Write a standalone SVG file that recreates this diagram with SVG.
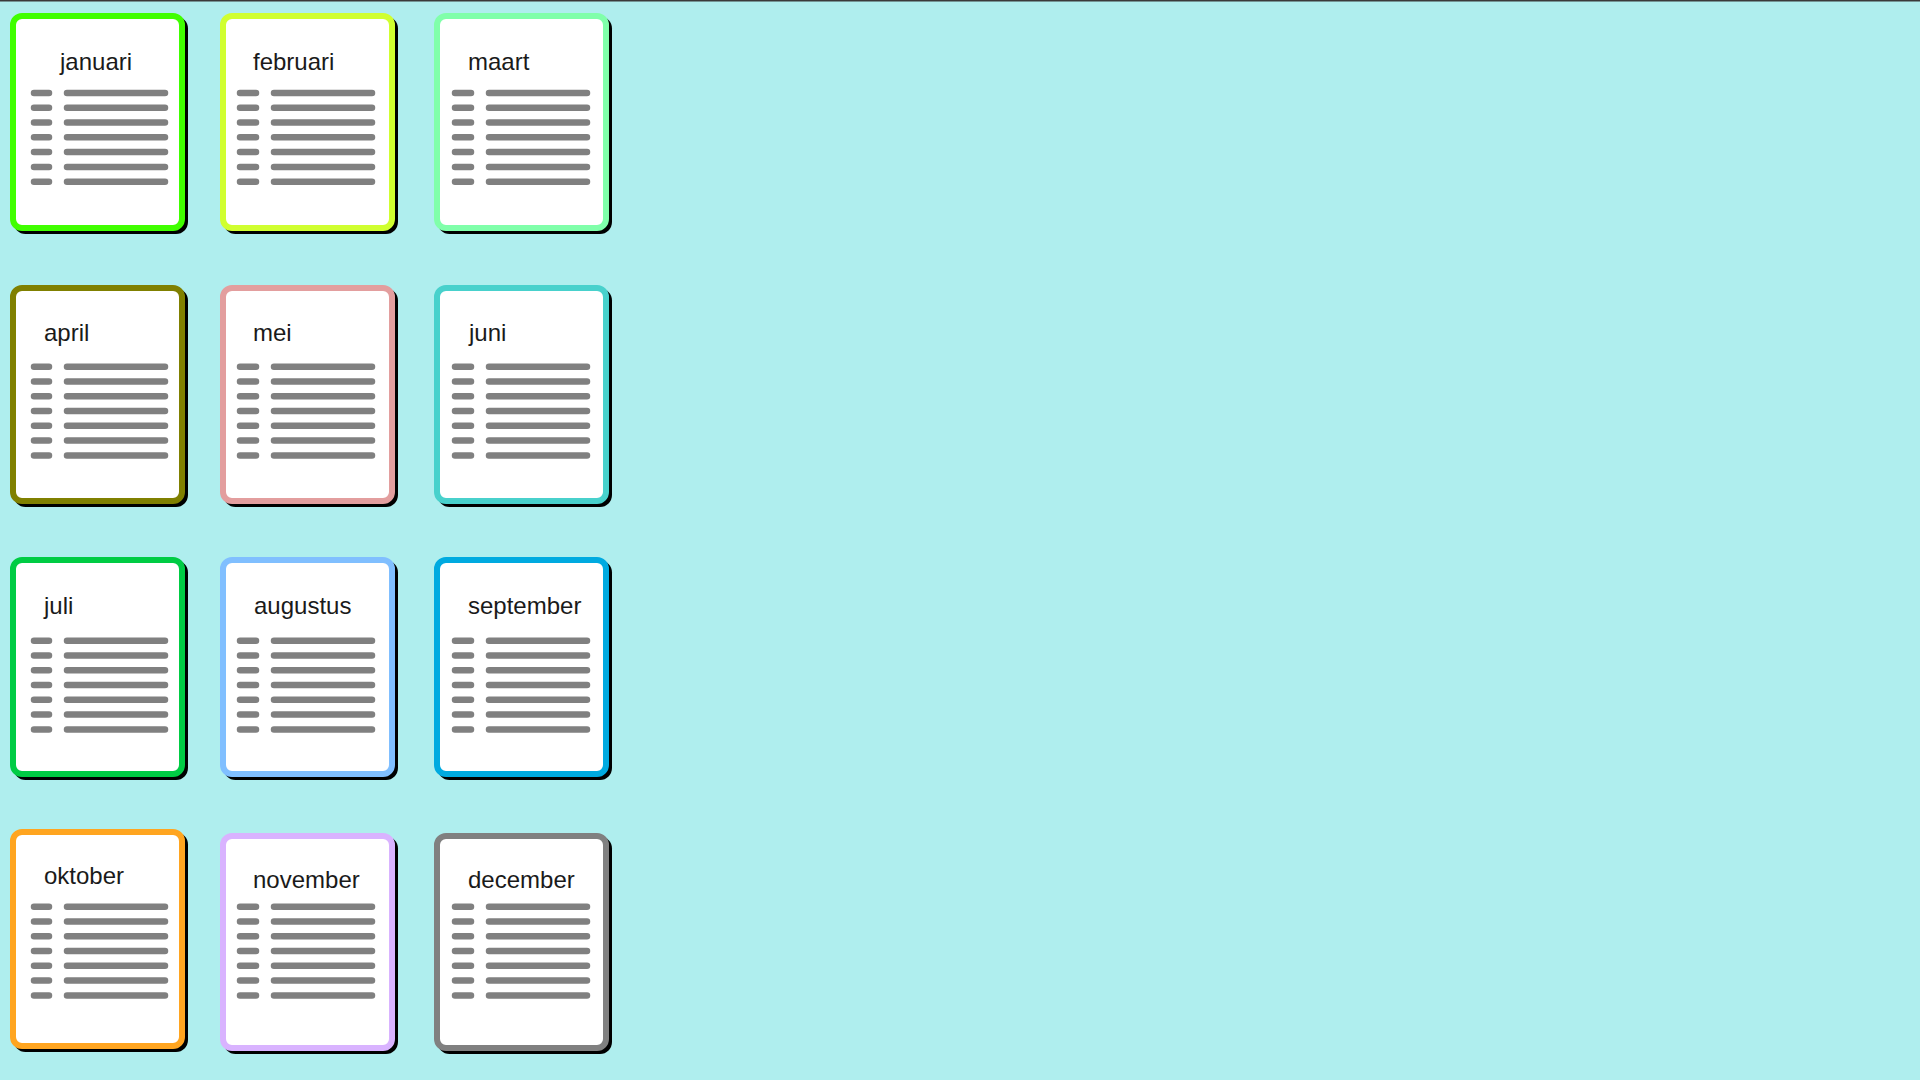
<svg xmlns="http://www.w3.org/2000/svg" width="1920" height="1080" viewBox="0 0 1920 1080">
<style>
.bg{fill:#afeeee}
.sh{fill:#000}
.card{fill:#fff;stroke-width:6}
.lbl{font-family:"Liberation Sans",Arial,sans-serif;font-size:24px;fill:#1a1a1a}
.bar{stroke:#808080;stroke-width:6.5;stroke-linecap:round;fill:none}
</style>
<defs>
<g id="bars1">
<path class="bar" d="M34 0H49M67 0H165M34 14.8H49M67 14.8H165M34 29.6H49M67 29.6H165M34 44.3H49M67 44.3H165M34 59.1H49M67 59.1H165M34 73.9H49M67 73.9H165M34 88.7H49M67 88.7H165"/>
</g>
<g id="bars2">
<path class="bar" d="M0 0H16M34 0H132M0 14.8H16M34 14.8H132M0 29.6H16M34 29.6H132M0 44.3H16M34 44.3H132M0 59.1H16M34 59.1H132M0 73.9H16M34 73.9H132M0 88.7H16M34 88.7H132"/>
</g>
</defs>
<rect class="bg" x="0" y="0" width="1920" height="1080"/>
<rect x="0" y="0" width="1920" height="1.5" fill="#3a3a3a"/>

<g id="januari">
<rect class="sh" x="13.5" y="16.5" width="174.5" height="217.5" rx="12"/>
<rect class="card" x="13" y="16" width="169" height="212" rx="9" stroke="#40ff00"/>
<text class="lbl" x="60" y="70">januari</text>
<use href="#bars1" x="0" y="93"/>
</g>
<g id="februari">
<rect class="sh" x="223.5" y="16.5" width="174.5" height="217.5" rx="12"/>
<rect class="card" x="223" y="16" width="169" height="212" rx="9" stroke="#d0ff30"/>
<text class="lbl" x="253" y="70">februari</text>
<use href="#bars2" x="240" y="93"/>
</g>
<g id="maart">
<rect class="sh" x="437.5" y="16.5" width="174.5" height="217.5" rx="12"/>
<rect class="card" x="437" y="16" width="169" height="212" rx="9" stroke="#80ffaa"/>
<text class="lbl" x="468" y="70">maart</text>
<use href="#bars2" x="455" y="93"/>
</g>

<g id="april">
<rect class="sh" x="13.5" y="288.5" width="174.5" height="218.5" rx="12"/>
<rect class="card" x="13" y="288" width="169" height="213" rx="9" stroke="#808000"/>
<text class="lbl" x="44" y="341">april</text>
<use href="#bars1" x="0" y="366.7"/>
</g>
<g id="mei">
<rect class="sh" x="223.5" y="288.5" width="174.5" height="218.5" rx="12"/>
<rect class="card" x="223" y="288" width="169" height="213" rx="9" stroke="#e39e9e"/>
<text class="lbl" x="253" y="341">mei</text>
<use href="#bars2" x="240" y="366.7"/>
</g>
<g id="juni">
<rect class="sh" x="437.5" y="288.5" width="174.5" height="218.5" rx="12"/>
<rect class="card" x="437" y="288" width="169" height="213" rx="9" stroke="#48d1cc"/>
<text class="lbl" x="469" y="341">juni</text>
<use href="#bars2" x="455" y="366.7"/>
</g>

<g id="juli">
<rect class="sh" x="13.5" y="560.5" width="174.5" height="219.5" rx="12"/>
<rect class="card" x="13" y="560" width="169" height="214" rx="9" stroke="#00cc44"/>
<text class="lbl" x="44" y="614">juli</text>
<use href="#bars1" x="0" y="640.7"/>
</g>
<g id="augustus">
<rect class="sh" x="223.5" y="560.5" width="174.5" height="219.5" rx="12"/>
<rect class="card" x="223" y="560" width="169" height="214" rx="9" stroke="#80bfff"/>
<text class="lbl" x="254" y="614">augustus</text>
<use href="#bars2" x="240" y="640.7"/>
</g>
<g id="september">
<rect class="sh" x="437.5" y="560.5" width="174.5" height="219.5" rx="12"/>
<rect class="card" x="437" y="560" width="169" height="214" rx="9" stroke="#00aae0"/>
<text class="lbl" x="468" y="614">september</text>
<use href="#bars2" x="455" y="640.7"/>
</g>

<g id="oktober">
<rect class="sh" x="13.5" y="832.5" width="174.5" height="219.5" rx="12"/>
<rect class="card" x="13" y="832" width="169" height="214" rx="9" stroke="#ffa520"/>
<text class="lbl" x="44" y="884">oktober</text>
<use href="#bars1" x="0" y="906.7"/>
</g>
<g id="november">
<rect class="sh" x="223.5" y="836.5" width="174.5" height="217.5" rx="12"/>
<rect class="card" x="223" y="836" width="169" height="212" rx="9" stroke="#d9b3ff"/>
<text class="lbl" x="253" y="888">november</text>
<use href="#bars2" x="240" y="906.7"/>
</g>
<g id="december">
<rect class="sh" x="437.5" y="836.5" width="174.5" height="217.5" rx="12"/>
<rect class="card" x="437" y="836" width="169" height="212" rx="9" stroke="#808080"/>
<text class="lbl" x="468" y="888">december</text>
<use href="#bars2" x="455" y="906.7"/>
</g>
</svg>
